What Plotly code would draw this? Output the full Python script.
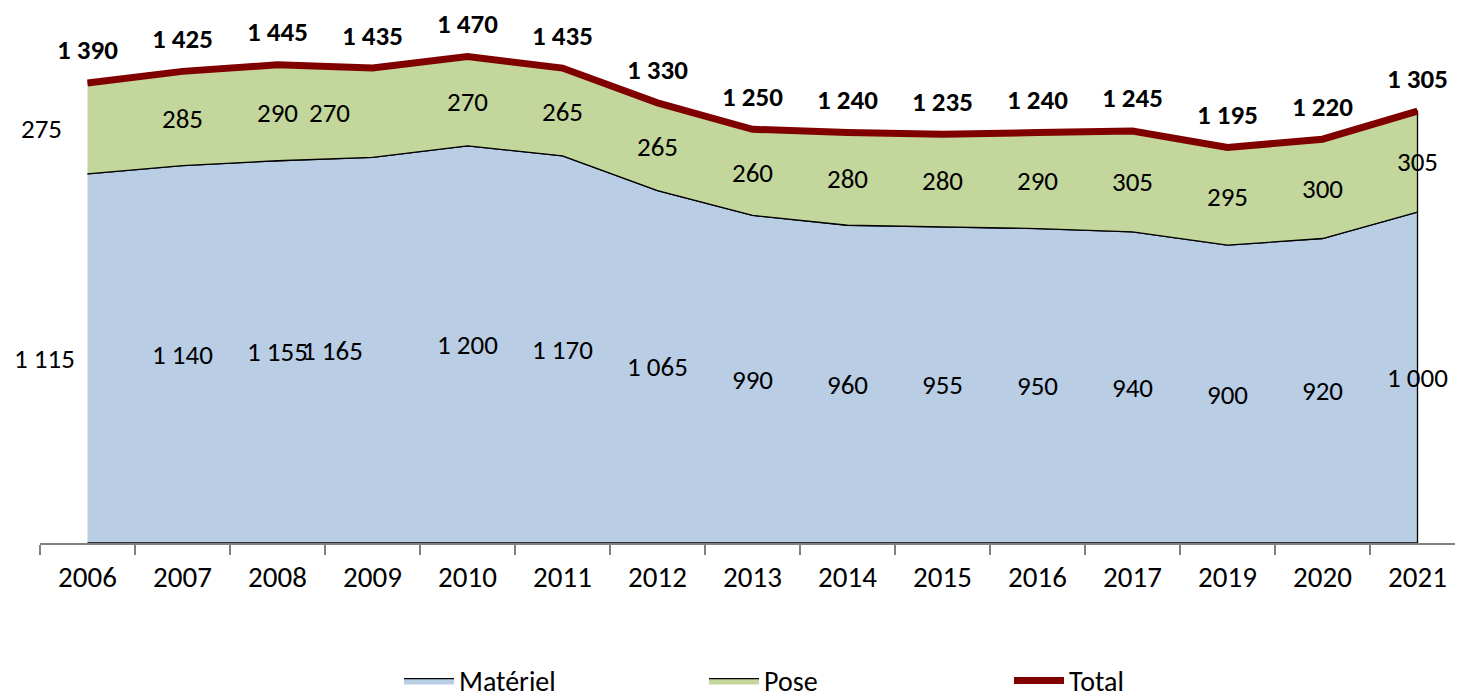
import plotly.graph_objects as go

years = ["2006", "2007", "2008", "2009", "2010", "2011", "2012", "2013",
         "2014", "2015", "2016", "2017", "2019", "2020", "2021"]
materiel = [1115, 1140, 1155, 1165, 1200, 1170, 1065, 990, 960, 955, 950, 940, 900, 920, 1000]
pose = [275, 285, 290, 270, 270, 265, 265, 260, 280, 280, 290, 305, 295, 300, 305]
total = [1390, 1425, 1445, 1435, 1470, 1435, 1330, 1250, 1240, 1235, 1240, 1245, 1195, 1220, 1305]

FONT = "Calibri, Carlito, Lato, Open Sans, sans-serif"
LBL = 28

def fmt(v):
    return f"{v:,}".replace(",", " ")

fig = go.Figure()

# Matériel area (closed polygon so edges are outlined)
fig.add_trace(go.Scatter(
    x=years + years[::-1], y=materiel + [0] * len(years),
    fill="toself", fillcolor="#B9CDE5", mode="lines",
    line=dict(color="black", width=1.3), name="Matériel", hoverinfo="skip"))

# Pose area stacked on top
fig.add_trace(go.Scatter(
    x=years + years[::-1], y=total + materiel[::-1],
    fill="toself", fillcolor="#C3D69B", mode="lines",
    line=dict(color="black", width=1.3), name="Pose", hoverinfo="skip"))

# Total line
fig.add_trace(go.Scatter(
    x=years, y=total, mode="lines",
    line=dict(color="#800000", width=7), name="Total"))

# label nudges (Excel-like placement quirks)
mat_shift = {0: -43, 3: -40}
pose_shift = {0: -46, 3: -43}

ann = []
for i in range(len(years)):
    ann.append(dict(x=i, y=materiel[i] / 2, xref="x", yref="y", text=fmt(materiel[i]),
                    showarrow=False, xshift=mat_shift.get(i, 0),
                    font=dict(family=FONT, size=LBL - 1, color="black")))
    ann.append(dict(x=i, y=materiel[i] + pose[i] / 2, xref="x", yref="y", text=fmt(pose[i]),
                    showarrow=False, xshift=pose_shift.get(i, 0),
                    font=dict(family=FONT, size=LBL - 1, color="black")))
    ann.append(dict(x=i, y=total[i], xref="x", yref="y", text="<b>" + fmt(total[i]) + "</b>",
                    showarrow=False, yshift=33,
                    font=dict(family=FONT, size=LBL - 1, color="black")))

fig.update_layout(
    width=1455, height=690,
    margin=dict(l=32, r=0, t=22, b=155, autoexpand=False),
    paper_bgcolor="white", plot_bgcolor="white",
    annotations=ann,
    showlegend=True,
    legend=dict(orientation="h", x=0.2523, xanchor="left", y=-0.220, yanchor="top",
                entrywidth=240, entrywidthmode="pixels",
                font=dict(family=FONT, size=LBL, color="black"),
                itemwidth=50, traceorder="normal"),
    font=dict(family=FONT, color="black"),
)

fig.update_xaxes(type="category", categoryorder="array", categoryarray=years,
                 range=[-0.5, 14.479], tickson="boundaries", ticks="outside",
                 ticklen=10, tickcolor="#808080", tickwidth=1.5,
                 showline=True, linecolor="#808080", linewidth=1.5,
                 showgrid=False, zeroline=False, ticklabelstandoff=7,
                 tickfont=dict(family=FONT, size=LBL + 1, color="black"))
fig.update_yaxes(range=[0, 1550], showticklabels=False, ticks="", showline=False,
                 showgrid=False, zeroline=False)

fig.write_html("out.html")
